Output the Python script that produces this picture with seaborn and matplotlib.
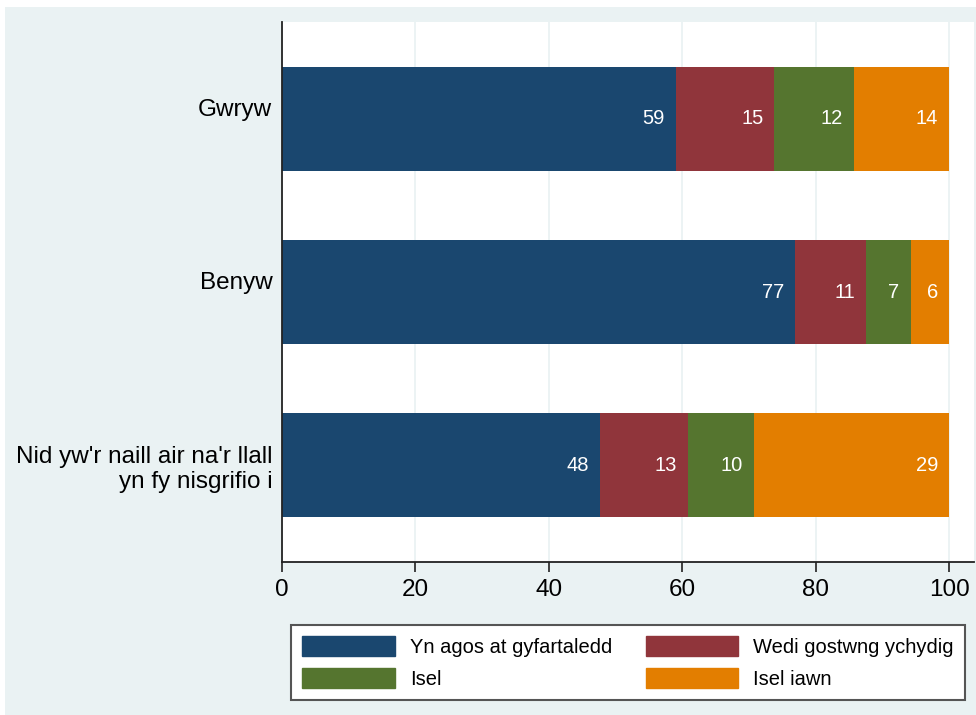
import matplotlib
matplotlib.use("Agg")
import matplotlib.pyplot as plt
from matplotlib.patches import Patch, Rectangle
import seaborn as sns
import pandas as pd

groups = ["Gwryw", "Benyw", "Nid yw'r naill air na'r llall\nyn fy nisgrifio i"]
categories = ["Yn agos at gyfartaledd", "Wedi gostwng ychydig", "Isel", "Isel iawn"]
near_avg = [59.0, 76.9, 47.6]
dropped_bit = [14.8, 10.6, 13.2]
low = [11.9, 6.7, 9.9]
very_low = [14.3, 5.8, 29.3]
colors = ["#1A476F", "#90353B", "#55752F", "#E37E00"]

sns.set_style("white")
plt.rcParams['font.family'] = ['Liberation Sans', 'DejaVu Sans']

dt = pd.DataFrame({"group": groups,
                   categories[0]: near_avg,
                   categories[1]: dropped_bit,
                   categories[2]: low,
                   categories[3]: very_low})
cum = dt[categories].cumsum(axis=1)

W, H = 976, 715
fig = plt.figure(figsize=(W / 100, H / 100), dpi=100)
fig.patch.set_facecolor("white")
fig.patches.append(Rectangle((5 / W, 0), 1, 1 - 7 / H, transform=fig.transFigure,
                             facecolor="#EAF2F3", edgecolor="none", zorder=-1))
ax = fig.add_axes([282 / W, 1 - 562 / H, (974 - 282) / W, (562 - 22) / H])
ax.set_facecolor("white")

# stacked bars: draw cumulative totals, longest first
for cat, col in reversed(list(zip(categories, colors))):
    sns.barplot(x=cum[cat], y=dt["group"], orient="h", color=col, saturation=1,
                width=0.6, errorbar=None, linewidth=0, ax=ax)

# value labels at the right end of each segment
for i in range(len(groups)):
    for cat in categories:
        ax.annotate(f"{dt.loc[i, cat]:.0f}", xy=(cum.loc[i, cat], i), xytext=(-8, 0),
                    textcoords="offset points", ha="right", va="center",
                    color="white", fontsize=14.5)

ax.set_xlim(0, 103.7)
ax.set_ylim(2.56, -0.56)
ax.set_xticks([0, 20, 40, 60, 80, 100])
ax.set_yticks(range(len(groups)), labels=[g if "\n" in g else g + "\n" for g in groups])
ax.set_xlabel("")
ax.set_ylabel("")
ax.xaxis.grid(True, color="#EAF2F3", lw=1.3)
ax.set_axisbelow(True)
for s in ["top", "right"]:
    ax.spines[s].set_visible(False)
for s in ["left", "bottom"]:
    ax.spines[s].set_color("#222222")
    ax.spines[s].set_linewidth(1.3)
ax.tick_params(axis="x", bottom=True, length=7, width=1.2, color="#222222",
               pad=5, labelsize=17.5, labelcolor="black")
ax.tick_params(axis="y", left=False, length=0, pad=7, labelsize=17.5, labelcolor="black")

order = [0, 2, 1, 3]
handles = [Patch(facecolor=colors[k], edgecolor=colors[k]) for k in order]
labels = [categories[k] for k in order]
leg = fig.legend(handles, labels, loc="lower left",
                 bbox_to_anchor=(291 / W, 1 - 700 / H, (965 - 291) / W, 81 / H),
                 mode="expand", ncol=2, fontsize=14.5, handlelength=4.6, handleheight=1.2,
                 handletextpad=0.75, labelspacing=0.55, borderpad=0.55, borderaxespad=0,
                 fancybox=False, edgecolor="#555555", facecolor="white", framealpha=1)
leg.get_frame().set_linewidth(1.5)
for t in leg.get_texts():
    t.set_color("black")

fig.savefig("out.png", dpi=100)
